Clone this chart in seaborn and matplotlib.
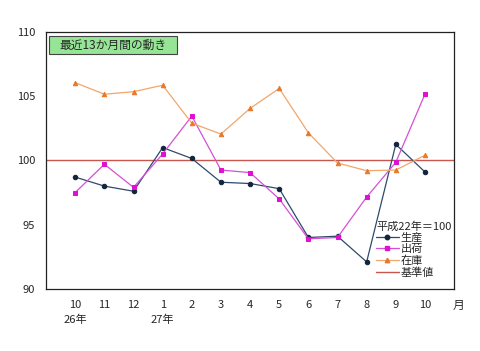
import pandas as pd
import matplotlib
matplotlib.use("Agg")
import matplotlib.pyplot as plt
import seaborn as sns
from matplotlib.lines import Line2D
from matplotlib.patches import Rectangle

# データ（平成22年＝100）
months = ["10", "11", "12", "1", "2", "3", "4", "5", "6", "7", "8", "9", "10"]
seisan = [98.7, 98.0, 97.6, 101.0, 100.15, 98.3, 98.2, 97.8, 94.0, 94.1, 92.1, 101.25, 99.1]
shukka = [97.5, 99.7, 97.9, 100.5, 103.45, 99.25, 99.05, 97.0, 93.9, 94.0, 97.15, 99.85, 105.15]
zaiko = [106.05, 105.15, 105.35, 105.85, 102.9, 102.05, 104.05, 105.6, 102.15, 99.8, 99.2, 99.25, 100.4]
base_value = 100
year_labels = {0: "26年", 3: "27年"}

names = ["生産", "出荷", "在庫"]
line_colors = {"生産": "#2E4A6B", "出荷": "#D64FD6", "在庫": "#F2A66A"}
marker_colors = {"生産": "#14243C", "出荷": "#E010D0", "在庫": "#E8782A"}
markers = {"生産": "o", "出荷": "s", "在庫": "^"}

sns.set_style("white")
plt.rcParams["font.family"] = ["Noto Sans CJK JP", "DejaVu Sans"]

df = pd.DataFrame({
    "pos": list(range(len(months))) * 3,
    "value": seisan + shukka + zaiko,
    "series": sum([[n] * len(months) for n in names], []),
})

fig = plt.figure(figsize=(4.8, 3.51), dpi=100)
ax = fig.add_axes([0.096, 0.177, 0.850, 0.732])

ax.axhline(base_value, color="#C8564F", lw=1.0, zorder=1)
for n in names:
    sub = df[df["series"] == n]
    sns.lineplot(data=sub, x="pos", y="value", ax=ax, color=line_colors[n], lw=0.9,
                 marker=markers[n], markersize=3.2, markerfacecolor=marker_colors[n],
                 markeredgecolor=marker_colors[n], legend=False, zorder=3)

ax.set_xlim(-1, 13)
ax.set_ylim(90, 110)
ax.set_yticks([90, 95, 100, 105, 110])
ax.set_xticks(range(len(months)))
ax.set_xticklabels(months)
ax.set_xlabel("")
ax.set_ylabel("")
ax.tick_params(axis="x", direction="in", length=4, width=0.8, pad=8, labelsize=8, color="#333333")
ax.tick_params(axis="y", length=0, pad=8, labelsize=8)
for s in ax.spines.values():
    s.set_color("#222222")
    s.set_linewidth(0.9)

for i, lab in year_labels.items():
    ax.text(i, -0.1, lab, transform=ax.get_xaxis_transform(), ha="center", va="top", fontsize=8)
ax.text(12.95, -0.04, "月", transform=ax.get_xaxis_transform(), ha="left", va="top", fontsize=8.5)

# タイトルボックス
ax.add_patch(Rectangle((0.008, 0.914), 0.313, 0.07, transform=ax.transAxes,
                       fc="#96E496", ec="#444444", lw=0.8, zorder=4))
ax.text(0.165, 0.949, "最近13か月間の動き", transform=ax.transAxes, ha="center", va="center",
        fontsize=8.5, zorder=5)

handles = [Line2D([0], [0], color=line_colors[n], lw=0.9, marker=markers[n], markersize=3.2,
                  markerfacecolor=marker_colors[n], markeredgecolor=marker_colors[n]) for n in names]
handles.append(Line2D([0], [0], color="#C8564F", lw=1.0))
leg = ax.legend(handles, names + ["基準値"], title="平成22年＝100", loc="lower right",
                bbox_to_anchor=(1.005, 0.025), frameon=False, fontsize=8, title_fontsize=8,
                handlelength=2.0, handletextpad=0.2, labelspacing=0.12, borderaxespad=0.2,
                borderpad=0.2)
leg._legend_box.align = "left"

fig.savefig("out.png", dpi=100)
